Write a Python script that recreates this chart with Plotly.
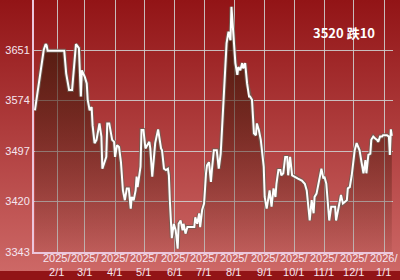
import base64
import plotly.graph_objects as go

# ---- data ----
dates = [
    "2025-01-09", "2025-01-12", "2025-01-15", "2025-01-18", "2025-01-20", "2025-01-21", "2025-01-22",
    "2025-02-08", "2025-02-10", "2025-02-13", "2025-02-16", "2025-02-19", "2025-02-20", "2025-02-23",
    "2025-02-25", "2025-02-26", "2025-03-01", "2025-03-03", "2025-03-04", "2025-03-06", "2025-03-08",
    "2025-03-09", "2025-03-11", "2025-03-13", "2025-03-16", "2025-03-18", "2025-03-19", "2025-03-23",
    "2025-03-24", "2025-03-26", "2025-03-29", "2025-03-31", "2025-04-01", "2025-04-03", "2025-04-05",
    "2025-04-07", "2025-04-09", "2025-04-11", "2025-04-13", "2025-04-15", "2025-04-17", "2025-04-18",
    "2025-04-20", "2025-04-22", "2025-04-23", "2025-04-24", "2025-04-27", "2025-04-28", "2025-04-30",
    "2025-05-02", "2025-05-04", "2025-05-06", "2025-05-07", "2025-05-09", "2025-05-12", "2025-05-15",
    "2025-05-18", "2025-05-19", "2025-05-21", "2025-05-23", "2025-05-25", "2025-05-26", "2025-05-27",
    "2025-05-29", "2025-05-31", "2025-06-02", "2025-06-04", "2025-06-05", "2025-06-07", "2025-06-09",
    "2025-06-10", "2025-06-12", "2025-06-14", "2025-06-17", "2025-06-21", "2025-06-22", "2025-06-24",
    "2025-06-26", "2025-06-27", "2025-06-29", "2025-07-01", "2025-07-03", "2025-07-04", "2025-07-06",
    "2025-07-08", "2025-07-09", "2025-07-11", "2025-07-14", "2025-07-16", "2025-07-18", "2025-07-19",
    "2025-07-21", "2025-07-23", "2025-07-24", "2025-07-26", "2025-07-28", "2025-07-29", "2025-07-31",
    "2025-08-01", "2025-08-02", "2025-08-04", "2025-08-05", "2025-08-07", "2025-08-09", "2025-08-10",
    "2025-08-12", "2025-08-14", "2025-08-16", "2025-08-17", "2025-08-19", "2025-08-21", "2025-08-23",
    "2025-08-24", "2025-08-26", "2025-08-28", "2025-08-29", "2025-08-31", "2025-09-01", "2025-09-03",
    "2025-09-05", "2025-09-06", "2025-09-08", "2025-09-10", "2025-09-12", "2025-09-13", "2025-09-15",
    "2025-09-17", "2025-09-18", "2025-09-20", "2025-09-22", "2025-09-24", "2025-09-25", "2025-09-27",
    "2025-09-29", "2025-10-02", "2025-10-05", "2025-10-09", "2025-10-12", "2025-10-14", "2025-10-16",
    "2025-10-17", "2025-10-19", "2025-10-21", "2025-10-22", "2025-10-24", "2025-10-26", "2025-10-28",
    "2025-10-29", "2025-10-31", "2025-11-01", "2025-11-03", "2025-11-05", "2025-11-06", "2025-11-08",
    "2025-11-12", "2025-11-13", "2025-11-15", "2025-11-17", "2025-11-18", "2025-11-20", "2025-11-24",
    "2025-11-25", "2025-11-27", "2025-11-29", "2025-12-01", "2025-12-02", "2025-12-04", "2025-12-06",
    "2025-12-07", "2025-12-09", "2025-12-11", "2025-12-13", "2025-12-14", "2025-12-16", "2025-12-18",
    "2025-12-19", "2025-12-21", "2025-12-23", "2025-12-25", "2025-12-26", "2025-12-28", "2025-12-30",
    "2025-12-31", "2026-01-04", "2026-01-06", "2026-01-07", "2026-01-08", "2026-01-09",
]
prices = [
    3559, 3590, 3620, 3651, 3660, 3658, 3650,
    3650, 3615, 3590, 3590, 3641, 3660, 3654,
    3580, 3620, 3610, 3600, 3575, 3559, 3564,
    3536, 3509, 3514, 3539, 3519, 3470, 3488,
    3539, 3539, 3514, 3511, 3488, 3506, 3503,
    3480, 3437, 3422, 3440, 3440, 3409, 3427,
    3422, 3437, 3458, 3442, 3473, 3529, 3529,
    3501, 3506, 3511, 3501, 3458, 3509, 3530,
    3501, 3498, 3470, 3468, 3470, 3460, 3422,
    3364, 3386, 3376, 3348, 3386, 3391, 3376,
    3386, 3371, 3381, 3381, 3381, 3396, 3386,
    3402, 3381, 3407, 3417, 3463, 3475, 3480,
    3450, 3468, 3498, 3498, 3470, 3493, 3524,
    3575, 3648, 3661, 3679, 3666, 3717, 3666,
    3646, 3631, 3613, 3625, 3620, 3631, 3623,
    3631, 3600, 3580, 3580, 3575, 3524, 3521,
    3539, 3529, 3514, 3503, 3473, 3427, 3409,
    3427, 3437, 3412, 3440, 3427, 3447, 3468,
    3468, 3460, 3463, 3488, 3488, 3460, 3488,
    3460, 3458, 3455, 3452, 3447, 3437, 3412,
    3391, 3422, 3402, 3427, 3432, 3447, 3463,
    3470, 3455, 3458, 3447, 3409, 3391, 3412,
    3412, 3391, 3407, 3422, 3430, 3417, 3422,
    3440, 3442, 3460, 3488, 3498, 3509, 3501,
    3498, 3480, 3463, 3483, 3463, 3491, 3493,
    3514, 3519, 3516, 3514, 3511, 3519, 3519,
    3521, 3521, 3519, 3491, 3530, 3520,
]
y_ticks = [3343, 3420, 3497, 3574, 3651]
x_tick_dates = ["2025-02-01", "2025-03-01", "2025-04-01", "2025-05-01", "2025-06-01", "2025-07-01",
                "2025-08-01", "2025-09-01", "2025-10-01", "2025-11-01", "2025-12-01", "2026-01-01"]
x_tick_year = ["2025/"] * 11 + ["2026/"]
x_tick_day = ["2/1", "3/1", "4/1", "5/1", "6/1", "7/1", "8/1", "9/1", "10/1", "11/1", "12/1", "1/1"]
title_text = "3520 跌10"

# ---- layout geometry ----
W, H = 400, 280
ML, MR, MT, MB = 34, 7, 0, 28
PW, PH = W - ML - MR, H - MT - MB
BAND = 271  # pixel row where dark bottom band starts


def py(y_px):
    return 1 - (y_px - MT) / PH


def px(x_px):
    return (x_px - ML) / PW


svg = (
    '<svg xmlns="http://www.w3.org/2000/svg" width="100" height="100" preserveAspectRatio="none">'
    '<defs><linearGradient id="g" x1="0" y1="0" x2="0" y2="1">'
    '<stop offset="0" stop-color="#921416"/><stop offset="1" stop-color="#cd6866"/>'
    '</linearGradient></defs><rect width="100" height="100" fill="url(#g)"/></svg>'
)
svg_uri = "data:image/svg+xml;base64," + base64.b64encode(svg.encode()).decode()

fig = go.Figure()
fig.add_trace(go.Scatter(
    x=dates, y=prices, mode="lines",
    line=dict(color="rgba(110,95,85,0.85)", width=4),
    fill="tozeroy",
    fillgradient=dict(type="vertical", start=3343, stop=3727,
                      colorscale=[[0, "rgba(70,28,14,0.08)"], [1, "rgba(70,28,14,0.97)"]]),
    hoverinfo="skip", showlegend=False,
))
fig.add_trace(go.Scatter(
    x=dates, y=prices, mode="lines",
    line=dict(color="#ffffff", width=2),
    hoverinfo="skip", showlegend=False,
))

label_font = dict(family="Liberation Sans", size=11, color="#f5e6f0")
annotations = [dict(
    text=f"<b>{title_text}</b>", x=px(344), y=py(32), xref="paper", yref="paper",
    showarrow=False, xanchor="center", yanchor="middle",
    font=dict(family="Noto Sans CJK SC", size=13, color="#ffffff"),
)]
for d, yr, t in zip(x_tick_dates, x_tick_year, x_tick_day):
    annotations.append(dict(
        text=f"{yr}<br>{t}", x=d, y=py(251), xref="x", yref="paper", showarrow=False,
        xanchor="center", yanchor="top", font=label_font, borderpad=0,
    ))

fig.update_layout(
    width=W, height=H,
    margin=dict(l=ML, r=MR, t=MT, b=MB, pad=0),
    paper_bgcolor="#921416",
    plot_bgcolor="rgba(0,0,0,0)",
    images=[dict(source=svg_uri, xref="paper", yref="paper",
                 x=px(0), y=py(0), sizex=W / PW, sizey=BAND / PH,
                 xanchor="left", yanchor="top", sizing="stretch", layer="below")],
    annotations=annotations,
    xaxis=dict(
        type="date", range=["2025-01-08 01:40", "2026-01-10 04:48"],
        tickvals=x_tick_dates, showticklabels=False, ticks="",
        showgrid=True, gridcolor="rgba(205,205,205,0.9)", gridwidth=1,
        showline=True, linecolor="#ecc6dc", linewidth=2,
        zeroline=False, fixedrange=True,
    ),
    yaxis=dict(
        range=[3343, 3343 + (3651 - 3343) * PH / (252 - 50)],
        tickvals=y_ticks, ticktext=[str(v) for v in y_ticks], ticks="",
        tickfont=label_font,
        showgrid=True, gridcolor="rgba(205,205,205,0.9)", gridwidth=1,
        showline=True, linecolor="#ecc6dc", linewidth=2,
        zeroline=False, fixedrange=True,
    ),
)

fig.write_html("out.html")
